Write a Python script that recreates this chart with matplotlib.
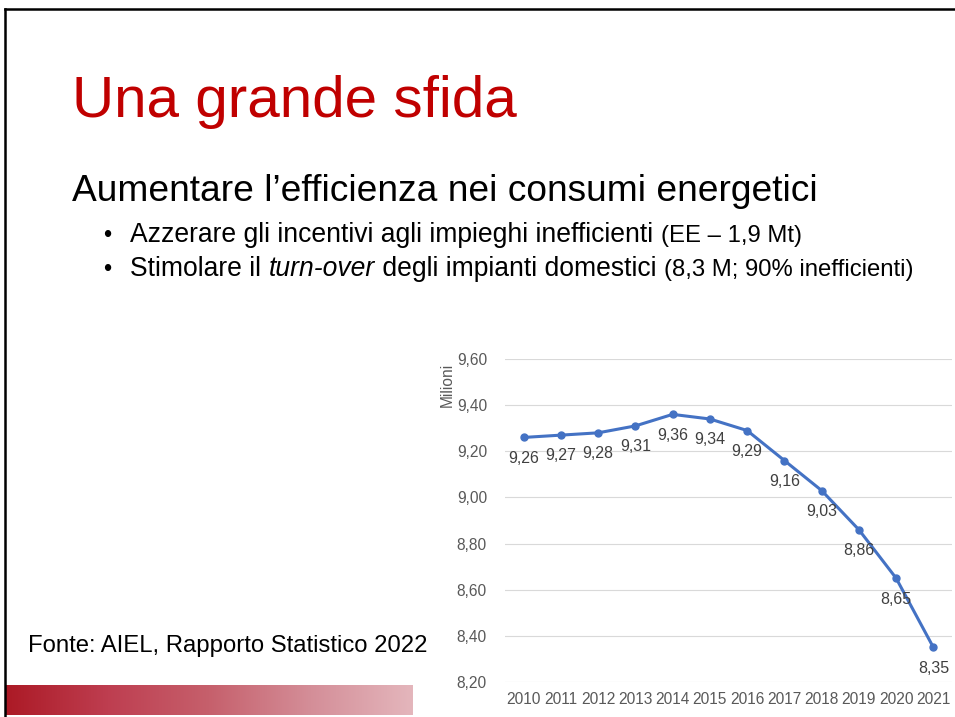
import numpy as np
import matplotlib.pyplot as plt
from matplotlib.lines import Line2D
from matplotlib.colors import LinearSegmentedColormap

plt.rcParams['font.family'] = ['Liberation Sans', 'DejaVu Sans']

years = ["2010", "2011", "2012", "2013", "2014", "2015",
         "2016", "2017", "2018", "2019", "2020", "2021"]
values = [9.26, 9.27, 9.28, 9.31, 9.36, 9.34, 9.29, 9.16, 9.03, 8.86, 8.65, 8.35]
yticks = [8.2, 8.4, 8.6, 8.8, 9.0, 9.2, 9.4, 9.6]

W, H = 955, 717
fig = plt.figure(figsize=(W / 100, H / 100), dpi=100)
fig.patch.set_facecolor("white")


def fx(px):
    return px / W


def fy(py):
    return 1 - py / H


def fmt(v):
    return "{:.2f}".format(v).replace(".", ",")


# slide border (top and left)
fig.add_artist(Line2D([fx(5), 1], [fy(9), fy(9)], color="black", lw=1.8))
fig.add_artist(Line2D([fx(5), fx(5)], [fy(9), 0], color="black", lw=1.8))

# title and texts
fig.text(fx(72), fy(117), "Una grande sfida", color="#C00000", fontsize=42, va="baseline")
fig.text(fx(72), fy(201), "Aumentare l\u2019efficienza nei consumi energetici",
         fontsize=26.7, va="baseline")

renderer = fig.canvas.get_renderer()


def line_of_parts(x, y, parts):
    for txt, size, style in parts:
        t = fig.text(fx(x), fy(y), txt, fontsize=size, style=style, va="baseline")
        x += t.get_window_extent(renderer).width


fig.text(fx(107), fy(242), "\u2022", fontsize=17, va="baseline", ha="center")
line_of_parts(130, 242, [("Azzerare gli incentivi agli impieghi inefficienti ", 19.1, "normal"),
                         ("(EE \u2013 1,9 Mt)", 17.2, "normal")])
fig.text(fx(107), fy(276), "\u2022", fontsize=17, va="baseline", ha="center")
line_of_parts(130, 276, [("Stimolare il ", 19.1, "normal"),
                         ("turn-over", 19.1, "italic"),
                         (" degli impianti domestici ", 19.1, "normal"),
                         ("(8,3 M; 90% inefficienti)", 17.2, "normal")])

fig.text(fx(28), fy(652), "Fonte: AIEL, Rapporto Statistico 2022", fontsize=17.2, va="baseline")

# red gradient bar at bottom left
gax = fig.add_axes([fx(6), fy(715), fx(412) - fx(6), fy(685) - fy(715)])
cmap = LinearSegmentedColormap.from_list("bar", ["#AC1A26", "#BE3E50", "#C6606C", "#D48E98", "#E4B6BC"])
gax.imshow(np.linspace(0, 1, 256).reshape(1, -1), aspect="auto", cmap=cmap)
gax.axis("off")

# line chart
left, right, top, bottom = 505, 952, 359, 682
ax = fig.add_axes([fx(left), fy(bottom), fx(right) - fx(left), fy(top) - fy(bottom)])
x = np.arange(len(years))
ax.plot(x, values, color="#4472C4", lw=2.2, marker="o", ms=5, zorder=3)
for xi, v in zip(x, values):
    ax.annotate(fmt(v), (xi, v), xytext=(0, -15), textcoords="offset points",
                ha="center", va="center", fontsize=11.5, color="#404040")

ax.set_xlim(-0.5, len(years) - 0.5)
ax.set_ylim(8.2, 9.6)
ax.set_xticks(x)
ax.set_xticklabels(years)
ax.set_yticks(yticks)
ax.set_yticklabels([fmt(v) for v in yticks])
ax.tick_params(axis="both", length=0, labelsize=11.2, colors="#595959")
ax.tick_params(axis="y", pad=13)
ax.tick_params(axis="x", pad=7)
ax.grid(axis="y", color="#D9D9D9", lw=0.8)
ax.set_axisbelow(True)
for s in ax.spines.values():
    s.set_visible(False)
ax.set_ylabel("Milioni", fontsize=11.2, color="#595959")
ax.yaxis.set_label_coords((455 - left) / (right - left), (bottom - 385) / (bottom - top))

fig.savefig("out.png", dpi=100, facecolor="white")
